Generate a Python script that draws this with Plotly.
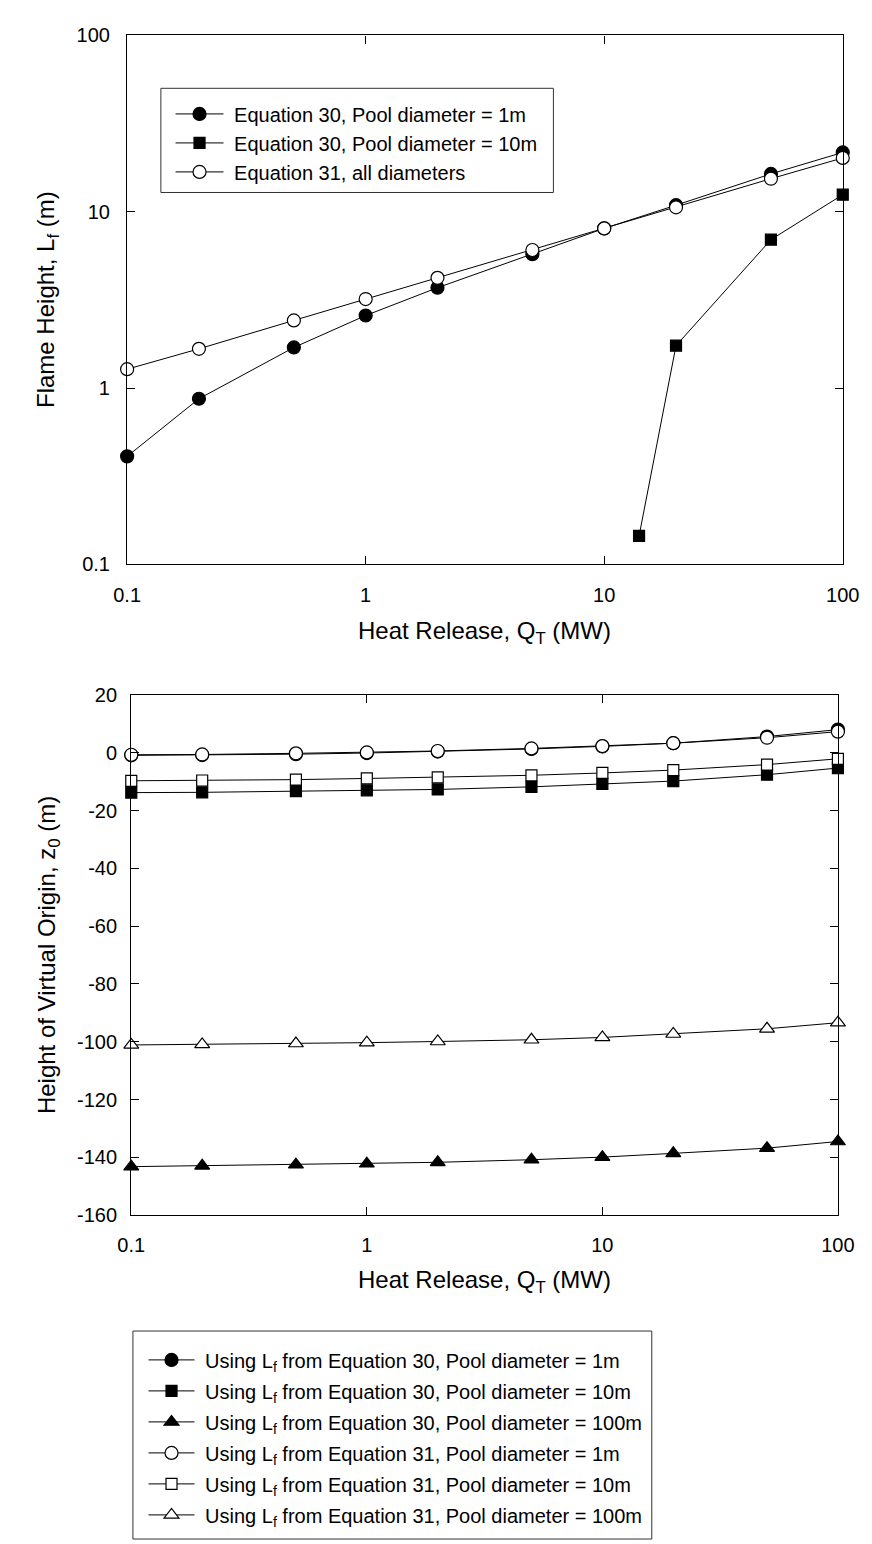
import plotly.graph_objects as go

W, H = 872, 1544
FONT = "Arial, 'Liberation Sans', sans-serif"

# ---------------- data ----------------
q = [0.1, 0.2, 0.5, 1, 2, 5, 10, 20, 50, 100]

# Top chart: flame height (m)
lf_eq30_d1 = [0.41, 0.87, 1.70, 2.58, 3.71, 5.75, 8.05, 10.9, 16.4, 21.7]
q_eq30_d10 = [14, 20, 50, 100]
lf_eq30_d10 = [0.145, 1.74, 6.95, 12.5]
lf_eq31 = [1.28, 1.67, 2.42, 3.20, 4.22, 6.07, 8.05, 10.6, 15.4, 20.2]

# Bottom chart: height of virtual origin (m)
z0_eq30_d1 = [-0.9, -0.8, -0.5, -0.1, 0.4, 1.3, 2.2, 3.3, 5.6, 8.0]
z0_eq30_d10 = [-13.8, -13.7, -13.3, -13.0, -12.7, -11.8, -10.8, -9.8, -7.6, -5.3]
z0_eq30_d100 = [-143.2, -142.9, -142.5, -142.2, -141.7, -140.8, -139.9, -138.6, -136.8, -134.5]
z0_eq31_d1 = [-0.7, -0.6, -0.2, 0.1, 0.6, 1.5, 2.3, 3.3, 5.2, 7.3]
z0_eq31_d10 = [-9.7, -9.6, -9.3, -8.9, -8.5, -7.8, -7.0, -6.0, -4.1, -2.1]
z0_eq31_d100 = [-101.1, -100.9, -100.6, -100.3, -99.9, -99.3, -98.5, -97.3, -95.5, -93.4]

x_tickvals = [0.1, 1, 10, 100]
x_ticktext = ["0.1", "1", "10", "100"]
y1_tickvals = [0.1, 1, 10, 100]
y1_ticktext = ["0.1", "1", "10", "100"]
y2_tickvals = [20, 0, -20, -40, -60, -80, -100, -120, -140, -160]
y2_ticktext = ["20", "0", "-20", "-40", "-60", "-80", "-100", "-120", "-140", "-160"]

top_names = [
    "Equation 30, Pool diameter = 1m",
    "Equation 30, Pool diameter = 10m",
    "Equation 31, all diameters",
]
bottom_names = [
    "Using L<sub>f</sub> from Equation 30, Pool diameter = 1m",
    "Using L<sub>f</sub> from Equation 30, Pool diameter = 10m",
    "Using L<sub>f</sub> from Equation 30, Pool diameter = 100m",
    "Using L<sub>f</sub> from Equation 31, Pool diameter = 1m",
    "Using L<sub>f</sub> from Equation 31, Pool diameter = 10m",
    "Using L<sub>f</sub> from Equation 31, Pool diameter = 100m",
]


# ---------------- helpers ----------------
def px(v):
    return v / W


def py(v):
    return 1 - v / H


NB = "\u00a0"

fig = go.Figure()


def add(x, y, name, symbol, fill, size, xa, ya, legend, group=None):
    fig.add_trace(go.Scatter(
        x=x, y=y, name=NB + name, mode="lines+markers",
        line=dict(color="black", width=1),
        marker=dict(symbol=symbol, size=size, color=fill,
                    line=dict(color="black", width=1.2)),
        xaxis=xa, yaxis=ya, legend=legend, legendgroup=group,
        cliponaxis=False,
    ))


# top chart
add(q, lf_eq30_d1, top_names[0], "circle", "black", 13, "x", "y", "legend")
add(q_eq30_d10, lf_eq30_d10, top_names[1], "square", "black", 11, "x", "y", "legend")
add(q, lf_eq31, top_names[2], "circle", "white", 13, "x", "y", "legend")

# bottom chart
bottom_series = [
    (z0_eq30_d1, "circle", "black", 13),
    (z0_eq30_d10, "square", "black", 11),
    (z0_eq30_d100, "triangle-up", "black", 13),
    (z0_eq31_d1, "circle", "white", 13),
    (z0_eq31_d10, "square", "white", 11),
    (z0_eq31_d100, "triangle-up", "white", 13),
]
for i, (vals, sym, fill, size) in enumerate(bottom_series):
    add(q, vals, bottom_names[i], sym, fill, size, "x2", "y2", "legend2", group="g%d" % i)

axis_common = dict(
    showline=True, linecolor="black", linewidth=1.3, mirror="ticks",
    ticks="inside", ticklen=8, tickwidth=1.2, tickcolor="black",
    showgrid=False, zeroline=False,
    tickfont=dict(family=FONT, size=20, color="black"),
)

top_plot = dict(l=109, r=851, t=16.7, b=553.3)
bot_plot = dict(l=113.3, r=846, t=685.7, b=1213.5)

fig.update_layout(
    width=W, height=H,
    margin=dict(l=0, r=0, t=0, b=0),
    paper_bgcolor="white", plot_bgcolor="white",
    font=dict(family=FONT, size=20, color="black"),
    xaxis=dict(domain=[px(top_plot["l"]), px(top_plot["r"])], anchor="y",
               type="log", range=[-1, 2], tickvals=x_tickvals, ticktext=x_ticktext,
               ticklabelstandoff=12, **axis_common),
    yaxis=dict(domain=[py(top_plot["b"]), py(top_plot["t"])], anchor="x",
               type="log", range=[-1, 2], tickvals=y1_tickvals, ticktext=y1_ticktext,
               ticklabelstandoff=12, **axis_common),
    xaxis2=dict(domain=[px(bot_plot["l"]), px(bot_plot["r"])], anchor="y2",
                type="log", range=[-1, 2], tickvals=x_tickvals, ticktext=x_ticktext,
                ticklabelstandoff=12, **axis_common),
    yaxis2=dict(domain=[py(bot_plot["b"]), py(bot_plot["t"])], anchor="x2",
                range=[-160, 20], tickvals=y2_tickvals, ticktext=y2_ticktext,
                ticklabelstandoff=9, **axis_common),
    legend=dict(x=px(154), y=py(76.5), xanchor="left", yanchor="top",
                bgcolor="rgba(0,0,0,0)", borderwidth=0, itemwidth=48,
                font=dict(family=FONT, size=20, color="black")),
    legend2=dict(x=px(126), y=py(1340.5), xanchor="left", yanchor="top",
                 bgcolor="rgba(0,0,0,0)", borderwidth=0, itemwidth=46,
                 tracegroupgap=2,
                 font=dict(family=FONT, size=20, color="black")),
    showlegend=True,
)

# legend frames
fig.add_shape(type="rect", xref="paper", yref="paper",
              x0=px(144), x1=px(551), y0=py(176), y1=py(70.3),
              line=dict(color="#333333", width=1), fillcolor="rgba(0,0,0,0)", layer="below")
fig.add_shape(type="rect", xref="paper", yref="paper",
              x0=px(115), x1=px(653), y0=py(1542), y1=py(1331),
              line=dict(color="#333333", width=1), fillcolor="rgba(0,0,0,0)", layer="below")

# axis titles
title_font = dict(family=FONT, size=24, color="black")
fig.add_annotation(text="Heat Release, Q<sub>T</sub> (MW)", xref="paper", yref="paper",
                   x=px((top_plot["l"] + top_plot["r"]) / 2), y=py(622),
                   xanchor="center", yanchor="middle", showarrow=False, font=title_font)
fig.add_annotation(text="Heat Release, Q<sub>T</sub> (MW)", xref="paper", yref="paper",
                   x=px((bot_plot["l"] + bot_plot["r"]) / 2), y=py(1281),
                   xanchor="center", yanchor="middle", showarrow=False, font=title_font)
fig.add_annotation(text="Flame Height, L<sub>f</sub> (m)", xref="paper", yref="paper",
                   x=px(27), y=py((top_plot["t"] + top_plot["b"]) / 2), textangle=-90,
                   xanchor="center", yanchor="middle", showarrow=False, font=title_font)
fig.add_annotation(text="Height of Virtual Origin, z<sub>0</sub> (m)", xref="paper", yref="paper",
                   x=px(27), y=py((bot_plot["t"] + bot_plot["b"]) / 2), textangle=-90,
                   xanchor="center", yanchor="middle", showarrow=False, font=title_font)

fig.write_html("out.html")
